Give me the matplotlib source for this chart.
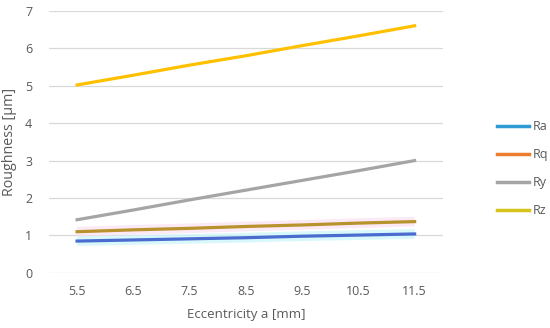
import matplotlib.pyplot as plt
from matplotlib.lines import Line2D

# Eccentricity categories and roughness values
ecc = ['5.5', '6.5', '7.5', '8.5', '9.5', '10.5', '11.5']
ra = [0.85, 0.88, 0.91, 0.94, 0.98, 1.01, 1.04]
rq = [1.10, 1.15, 1.19, 1.24, 1.28, 1.33, 1.37]
ry = [1.42, 1.68, 1.95, 2.21, 2.47, 2.73, 3.00]
rz = [5.02, 5.28, 5.55, 5.80, 6.07, 6.33, 6.60]

text_col = '#595959'
plt.rcParams['font.family'] = ['Open Sans', 'DejaVu Sans']

fig = plt.figure(figsize=(5.5, 3.28), dpi=100)
ax = fig.add_axes([0.089, 0.168, 0.716, 0.799])

x = range(len(ecc))

# faint glow under the two low lines, as in the reference
ax.plot(x, ra, color='#C9F6FA', lw=7, alpha=0.7, solid_capstyle='butt', zorder=1)
ax.plot(x, rq, color='#FBE1F3', lw=7, alpha=0.7, solid_capstyle='butt', zorder=1)

ax.plot(x, ra, color='#4A6CCF', lw=2.3, zorder=3)
ax.plot(x, rq, color='#B8922C', lw=2.3, zorder=3)
ax.plot(x, ry, color='#A5A5A5', lw=2.3, zorder=3)
ax.plot(x, rz, color='#FFC000', lw=2.3, zorder=3)

ax.set_xlim(-0.5, len(ecc) - 0.5)
ax.set_ylim(0, 7)
ax.set_xticks(list(x))
ax.set_xticklabels(ecc)
ax.set_yticks(range(8))

ax.grid(axis='y', color='#D9D9D9', lw=0.9)
ax.set_axisbelow(True)
for s in ax.spines.values():
    s.set_visible(False)
ax.tick_params(length=0, colors=text_col, labelsize=9)
ax.tick_params(axis='x', pad=9)
ax.tick_params(axis='y', pad=12)

ax.set_xlabel('Eccentricity a [mm]', color=text_col, fontsize=9.5, labelpad=7)
ax.set_ylabel('Roughness [µm]', color=text_col, fontsize=10.3, labelpad=6)

handles = [
    Line2D([], [], color='#2E9BD6', lw=2.5),
    Line2D([], [], color='#ED7D31', lw=2.5),
    Line2D([], [], color='#A5A5A5', lw=2.5),
    Line2D([], [], color='#D6C31C', lw=2.5),
]
leg = fig.legend(handles, ['Ra', 'Rq', 'Ry', 'Rz'], loc='center left',
                 bbox_to_anchor=(0.894, 0.485), frameon=False, fontsize=9,
                 handlelength=2.6, handletextpad=0.25, labelspacing=1.2,
                 labelcolor=text_col, borderaxespad=0)

fig.savefig('out.png', dpi=100)
